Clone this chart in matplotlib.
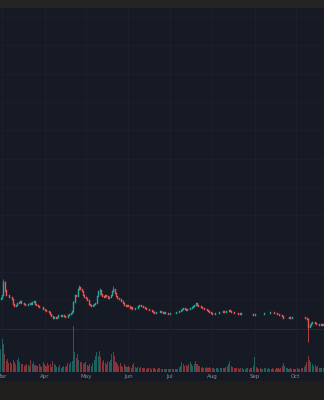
import matplotlib
matplotlib.use("Agg")
import matplotlib.pyplot as plt
import matplotlib.dates as mdates
import numpy as np
import pandas as pd
from matplotlib.patches import Rectangle

# Daily closes (USD), starting 2023-02-28
closes = [
    0.322, 0.330, 0.370, 0.345, 0.330, 0.332, 0.326, 0.324, 0.318, 0.305,
    0.297, 0.302, 0.308, 0.310, 0.313, 0.308, 0.306, 0.304, 0.301, 0.300,
    0.305, 0.307, 0.304, 0.310, 0.313, 0.305, 0.300, 0.298, 0.296, 0.294,
    0.296, 0.290, 0.286, 0.284, 0.283, 0.279, 0.274, 0.269, 0.263, 0.265,
    0.262, 0.266, 0.270, 0.272, 0.269, 0.271, 0.268, 0.266, 0.265, 0.271,
    0.274, 0.278, 0.282, 0.310, 0.332, 0.328, 0.350, 0.355, 0.348, 0.344,
    0.332, 0.326, 0.322, 0.316, 0.304, 0.300, 0.299, 0.302, 0.304, 0.308,
    0.328, 0.344, 0.346, 0.334, 0.327, 0.325, 0.330, 0.327, 0.321, 0.326,
    0.332, 0.342, 0.348, 0.336, 0.328, 0.322, 0.320, 0.318, 0.314, 0.308,
    0.302, 0.299, 0.302, 0.297, 0.292, 0.295, 0.289, 0.288, 0.291, 0.293,
    0.298, 0.300, 0.299, 0.297, 0.295, 0.292, 0.290, 0.289, 0.287, 0.285,
    0.282, 0.280, 0.278, 0.279, 0.280, 0.279, 0.282, 0.280, 0.278, 0.279,
    0.277, 0.278, 0.275, 0.276, 0.278, 0.276, 0.277, 0.278, 0.279, 0.281,
    0.284, 0.287, 0.290, 0.293, 0.288, 0.286, 0.289, 0.288, 0.291, 0.296,
    0.299, 0.301, 0.306, 0.302, 0.299, 0.297, 0.295, 0.292, 0.290, 0.289,
    0.287, 0.284, 0.281, 0.277, 0.274, 0.273, 0.276, 0.278, 0.277, 0.279,
    0.280, 0.279, 0.282, 0.280, 0.283, 0.282, 0.286, 0.282, 0.280, 0.279,
    0.277, 0.278, 0.276, 0.275, 0.276, 0.274, 0.275, 0.274, 0.273, 0.274,
    0.273, 0.275, 0.274, 0.273, 0.272, 0.274, 0.273, 0.275, 0.274, 0.273,
    0.274, 0.275, 0.277, 0.278, 0.277, 0.278, 0.279, 0.280, 0.279, 0.278,
    0.276, 0.275, 0.273, 0.272, 0.270, 0.268, 0.261, 0.262, 0.263, 0.262,
    0.264, 0.263, 0.264, 0.265, 0.264, 0.265, 0.266, 0.265, 0.266, 0.265,
    0.264, 0.265, 0.263, 0.259, 0.235, 0.242, 0.248, 0.250, 0.251, 0.247,
    0.245, 0.243, 0.242, 0.243, 0.242, 0.243,
]
first_open = 0.318

# Daily volume (millions)
volumes = [
    68, 98, 83, 53, 33, 38, 26, 30, 23, 36,
    30, 23, 36, 40, 28, 22, 24, 18, 20, 22,
    20, 18, 36, 23, 28, 20, 18, 16, 22, 17,
    15, 30, 22, 17, 27, 19, 23, 14, 33, 23,
    19, 13, 15, 19, 12, 15, 16, 13, 18, 26,
    22, 28, 33, 138, 58, 40, 53, 36, 28, 30,
    22, 26, 28, 20, 18, 22, 16, 26, 36, 46,
    60, 48, 63, 43, 30, 36, 26, 22, 32, 28,
    36, 53, 58, 46, 28, 23, 18, 26, 16, 13,
    22, 18, 14, 16, 13, 12, 20, 26, 14, 12,
    15, 10, 13, 12, 10, 11, 9, 12, 10, 11,
    9, 10, 12, 9, 8, 10, 11, 9, 8, 7,
    9, 8, 7, 8, 7, 8, 7, 9, 8, 9,
    13, 18, 28, 23, 16, 20, 16, 22, 28, 24,
    16, 23, 33, 23, 18, 16, 12, 14, 10, 12,
    14, 11, 13, 10, 12, 11, 9, 10, 11, 9,
    10, 11, 12, 10, 13, 16, 22, 33, 18, 14,
    11, 12, 10, 11, 9, 10, 11, 9, 8, 10,
    11, 9, 10, 12, 16, 43, 14, 10, 9, 10,
    8, 9, 10, 11, 9, 10, 8, 9, 10, 8,
    9, 10, 11, 9, 12, 18, 26, 16, 12, 10,
    9, 11, 8, 9, 8, 9, 10, 9, 8, 10,
    12, 14, 20, 30, 48, 36, 28, 23, 18, 20,
    14, 16, 12, 11, 10, 11,
]

# Days with wicks beyond the candle body: index, high, low
wick_days = [2, 3, 53, 57, 72, 82, 224]
wick_high = [0.380, 0.372, 0.312, 0.362, 0.352, 0.358, 0.262]
wick_low = [0.328, 0.340, 0.280, 0.346, 0.330, 0.340, 0.190]

grid_prices = [0.315, 0.400, 0.485, 0.570, 0.655, 0.740, 0.825, 0.910,
               0.995, 1.080, 1.165]
pane_split = 0.229

UP = "#26a69a"
DOWN = "#ef5350"
BG = "#161a25"

dates = pd.date_range("2023-02-28", periods=len(closes), freq="D")
x = mdates.date2num(dates)
c = np.array(closes)
o = np.concatenate([[first_open], c[:-1]])
hi = np.maximum(o, c)
lo = np.minimum(o, c)
for d, h, l in zip(wick_days, wick_high, wick_low):
    hi[d] = max(hi[d], h)
    lo[d] = min(lo[d], l)
up = c >= o
cols = np.where(up, UP, DOWN)

fig = plt.figure(figsize=(3.24, 4.0), dpi=100, facecolor="#1f1e1c")
fig.patches.append(Rectangle((0, 0.98), 1, 0.02, transform=fig.transFigure,
                             facecolor="#232323", edgecolor="none", zorder=-2))
fig.patches.append(Rectangle((0, 0.0475), 1, 0.9325, transform=fig.transFigure,
                             facecolor=BG, edgecolor="none", zorder=-1))

ax = fig.add_axes([0, 0.07, 1, 0.91])
ax.set_facecolor("none")
xmin, xmax = x[0] - 0.5, x[-1] + 0.5
ax.set_xlim(xmin, xmax)
ax.set_ylim(0.100, 1.192)

# grid
for gp in grid_prices:
    ax.axhline(gp, color="#1c202d", lw=0.6, zorder=0)
ax.axhline(pane_split, color="#2a2e39", lw=0.6, zorder=0)
ax.xaxis.set_major_locator(mdates.MonthLocator())
ax.xaxis.set_major_formatter(mdates.DateFormatter("%b"))
ax.grid(axis="x", color="#1c202d", lw=0.6, zorder=0)

# candles: wick then body
ax.vlines(x, lo, hi, colors=cols, lw=0.5, zorder=3)
body = ax.vlines(x, np.minimum(o, c), np.maximum(o, c), colors=cols,
                 lw=1.0, zorder=4)
body.set_capstyle("projecting")

for s in ax.spines.values():
    s.set_visible(False)
ax.tick_params(axis="x", length=0, pad=1.2, labelsize=4, labelcolor="#8c8f99")
ax.tick_params(axis="y", left=False, labelleft=False)

# volume pane
axv = fig.add_axes([0, 0.0712, 1, 0.1775], sharex=ax)
axv.set_facecolor("none")
axv.bar(x, volumes, width=0.75, color=cols, alpha=0.5, zorder=2)
axv.set_ylim(0, 213)
axv.set_xlim(xmin, xmax)
axv.axis("off")

fig.savefig("out.png", dpi=100, facecolor=fig.get_facecolor())
